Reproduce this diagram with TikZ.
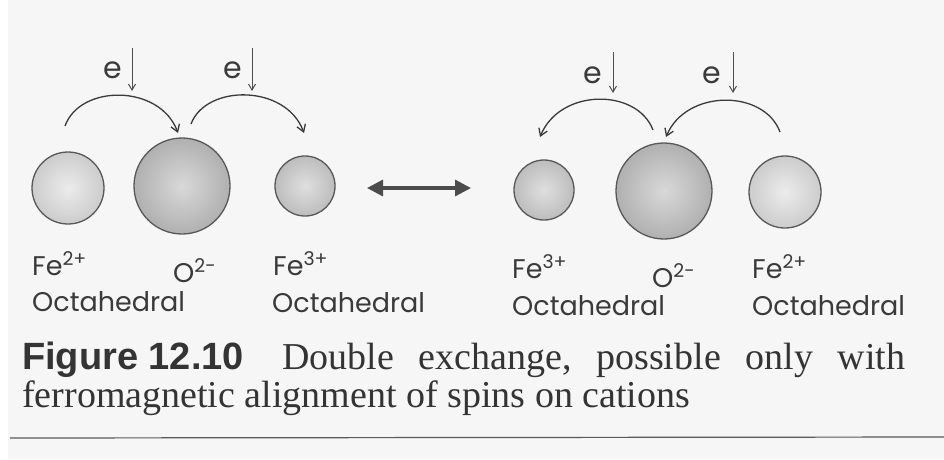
\documentclass[tikz,border=0pt]{standalone}
\usepackage{fontspec}
\setmainfont{Liberation Serif}
\newfontfamily\labfont{Poppins}
\newfontfamily\figfont{Liberation Sans}
\usetikzlibrary{arrows.meta}
\definecolor{ink}{HTML}{3A3A3A}
\definecolor{paper}{HTML}{F6F6F6}
\newcommand{\wsp}{\hskip 8pt plus 1fil\relax}
\tikzset{
  lbl/.style={anchor=base west, inner sep=0pt, font=\labfont\fontsize{27}{27}\selectfont, text=ink},
  elec/.style={anchor=center, inner sep=0pt, font=\labfont\fontsize{30}{30}\selectfont, text=ink},
  ion/.style={circle, draw=ink!85, line width=1.3pt, inner sep=0pt},
  feA/.style={ion, minimum size=72pt, inner color=gray!15, outer color=gray!40},
  feB/.style={ion, minimum size=60pt, inner color=gray!25, outer color=gray!52},
  oxy/.style={ion, minimum size=96pt, inner color=gray!30, outer color=gray!62},
  hop/.style={draw=ink, line width=1.3pt, -{Straight Barb[length=7pt,width=9pt]}},
  spin/.style={draw=ink!90, line width=1pt, -{Straight Barb[length=6pt,width=7pt]}},
  swap/.style={draw=gray!60!black, line width=3.2pt, {Triangle[length=16pt,width=16pt]}-{Triangle[length=16pt,width=16pt]}},
  captxt/.style={anchor=base west, inner sep=0pt, font=\fontsize{38}{40}\selectfont, text=ink!90!black},
}
\begin{document}
\begin{tikzpicture}[x=1pt,y=-1pt]
\fill[paper] (0,0) rectangle (944,459);
\fill[white] (0,0) rectangle (8,459);
\useasboundingbox (0,0) rectangle (944,459);

% left group
\node[feA] (feL1) at (68,188) {};
\node[oxy] (oL) at (182,186) {};
\node[feB] (feL2) at (305,186) {};
% right group
\node[feB] (feR1) at (544,190) {};
\node[oxy] (oR) at (664,191) {};
\node[feA] (feR2) at (785,192) {};

% resonance arrow
\coordinate (sw1) at (367,188);
\coordinate (sw2) at (471,188);
\draw[swap] (sw1) -- (sw2);

% hopping arcs left
\coordinate (a1s) at (65,126);
\coordinate (a1e) at (178,133);
\draw[hop] (a1s) .. controls (80,84) and (160,84) .. (a1e);
\coordinate (a2s) at (191,124);
\coordinate (a2e) at (304,133);
\draw[hop] (a2s) .. controls (206,84) and (286,84) .. (a2e);
% hopping arcs right
\coordinate (b1s) at (653,130);
\coordinate (b1e) at (540,137);
\draw[hop] (b1s) .. controls (637,88) and (560,88) .. (b1e);
\coordinate (b2s) at (780,132);
\coordinate (b2e) at (666,137);
\draw[hop] (b2s) .. controls (764,89) and (686,89) .. (b2e);

% electrons with spin-down arrows
\node[elec] (e1) at (113,70) {e};
\coordinate (s1t) at (132,48); \coordinate (s1b) at (132,91);
\draw[spin] (s1t) -- (s1b);
\node[elec] (e2) at (233,70) {e};
\coordinate (s2t) at (252,48); \coordinate (s2b) at (252,91);
\draw[spin] (s2t) -- (s2b);
\node[elec] (e3) at (593,75) {e};
\coordinate (s3t) at (613,52); \coordinate (s3b) at (613,93);
\draw[spin] (s3t) -- (s3b);
\node[elec] (e4) at (712,75) {e};
\coordinate (s4t) at (733,52); \coordinate (s4b) at (733,93);
\draw[spin] (s4t) -- (s4b);

% labels left
\node[lbl] (tFeL1) at (32,275) {Fe\textsuperscript{2+}};
\node[lbl] (tOL) at (173,282) {O\textsuperscript{2-}};
\node[lbl] (tFeL2) at (273,275) {Fe\textsuperscript{3+}};
\node[lbl] (tOcL1) at (32,311) {Octahedral};
\node[lbl] (tOcL2) at (272,312) {Octahedral};
% labels right
\node[lbl] (tFeR1) at (512,278) {Fe\textsuperscript{3+}};
\node[lbl] (tOR) at (652,287) {O\textsuperscript{2-}};
\node[lbl] (tFeR2) at (752,278) {Fe\textsuperscript{2+}};
\node[lbl] (tOcR1) at (512,315) {Octahedral};
\node[lbl] (tOcR2) at (752,315) {Octahedral};

% caption
\node[captxt] (cap1) at (22,369)
  {\hbox to 883pt{{\figfont\bfseries Figure 12.10}\hskip 22pt plus 1fil Double\wsp exchange,\wsp possible\wsp only\wsp with}};
\node[captxt] (cap2) at (22,407)
  {ferromagnetic alignment of spins on cations};

% rule
\coordinate (r1) at (10,438);
\coordinate (r2) at (944,437);
\draw[gray!70!black, line width=1.2pt] (r1) -- (r2);
\end{tikzpicture}
\end{document}
